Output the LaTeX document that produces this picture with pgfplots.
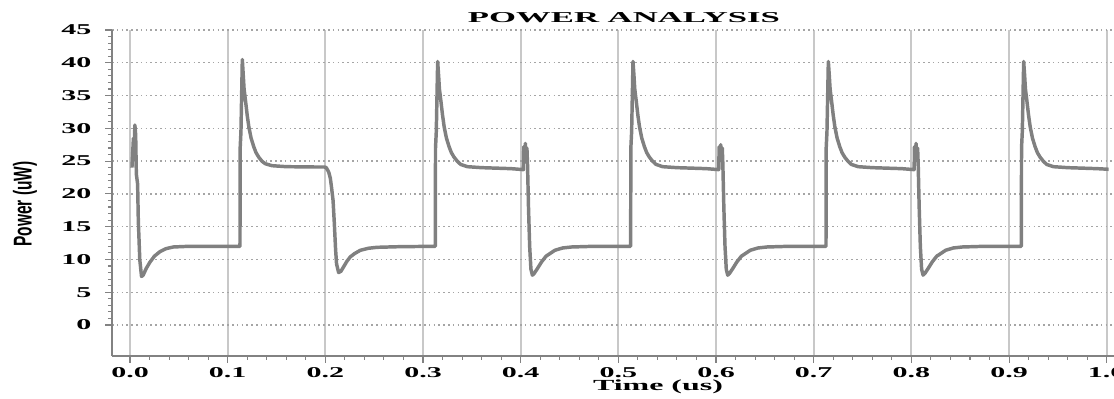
\documentclass[border=0pt]{standalone}
\usepackage{fontspec}
\setmainfont{Liberation Serif}
\newfontfamily\tickfont{Liberation Serif}[FakeStretch=2.0]
\newfontfamily\labelsans{Liberation Sans}
\usepackage{pgfplots}
\pgfplotsset{compat=1.18}
\definecolor{trace}{RGB}{128,128,128}
\definecolor{vgrid}{RGB}{200,200,200}
\definecolor{hgrid}{RGB}{165,165,165}
\definecolor{axln}{RGB}{130,130,130}
\begin{document}
\begin{tikzpicture}
\begin{axis}[
  scale only axis, width=751.5pt, height=244.5pt,
  xmin=-0.01843, xmax=1.00748, ymin=-4.73, ymax=45,
  axis x line=bottom, axis y line=left,
  axis line style={axln, line width=1.3pt, -},
  xtick={0,0.1,...,1.0}, ytick={0,5,...,45},
  minor x tick num=4, minor y tick num=4,
  tick align=outside, major tick length=5pt, minor tick length=3pt,
  tick style={axln, line width=0.8pt},
  xmajorgrids, ymajorgrids,
  x grid style={vgrid, line width=1.3pt},
  y grid style={hgrid, line width=1pt, dash pattern=on 1.2pt off 2.4pt},
  /pgf/number format/assume math mode=true,
  xticklabel style={font=\tickfont\bfseries\fontsize{11.25pt}{12pt}\selectfont, /pgf/number format/fixed, /pgf/number format/fixed zerofill, /pgf/number format/precision=1},
  yticklabel style={font=\tickfont\bfseries\fontsize{11.25pt}{12pt}\selectfont, xshift=-7pt},
  clip=false,
]
\addplot[trace, line width=2.6pt, line join=round] coordinates {
(0.002,24.0)(0.0035,28.5)(0.004,25.5)(0.005,30.5)(0.0058,29)(0.0065,23)(0.0078,21.5)(0.0085,16)(0.0100,10)(0.0118,7.4)(0.0135,7.6)(0.0165,8.6)(0.0205,9.6)(0.025,10.5)(0.0308,11.2)(0.037,11.65)(0.0444,11.9)(0.06,12.0)
(0.1126,12.0)(0.1128,27)(0.1136,29.5)(0.1150,40.5)(0.1160,38)(0.1168,36)(0.1182,34.3)(0.1200,32.0)(0.1217,30.2)(0.1240,28.5)(0.1267,27.2)(0.1290,26.3)(0.1318,25.6)(0.1350,25.0)(0.1385,24.6)(0.1454,24.3)(0.1600,24.15)(0.1900,24.1)(0.1990,24.1)
(0.2010,24.0)(0.2035,23.3)(0.2051,22.4)(0.2065,20.8)(0.2079,19.0)(0.2092,15.5)(0.2105,11.5)(0.2115,9.3)(0.2136,8.0)(0.2160,8.2)(0.2188,8.9)(0.2220,9.7)(0.2256,10.4)(0.2300,10.9)(0.2359,11.4)(0.2440,11.7)(0.2530,11.85)(0.2770,11.95)
(0.3126,12.0)(0.3128,27)(0.3136,29.5)(0.3150,40.2)(0.3160,38)(0.3168,36)(0.3182,34.3)(0.3200,32.0)(0.3217,30.2)(0.3240,28.5)(0.3267,27.2)(0.3290,26.3)(0.3318,25.6)(0.3350,25.0)(0.3385,24.5)(0.3454,24.15)(0.3600,24.0)(0.3900,23.85)(0.4028,23.7)
(0.4032,27.2)(0.4040,25.0)(0.4048,27.7)(0.4056,25.5)(0.4064,27.0)(0.4070,24.5)(0.4080,18.0)(0.4092,12.0)(0.4105,8.5)(0.4120,7.6)(0.4140,7.9)(0.4175,8.7)(0.4215,9.65)(0.4260,10.5)(0.4351,11.4)(0.4430,11.75)(0.4522,11.9)(0.4700,11.98)
(0.5126,12.0)(0.5128,27)(0.5136,29.5)(0.5150,40.2)(0.5160,38)(0.5168,36)(0.5182,34.3)(0.5200,32.0)(0.5217,30.2)(0.5240,28.5)(0.5267,27.2)(0.5290,26.3)(0.5318,25.6)(0.5350,25.0)(0.5385,24.5)(0.5454,24.15)(0.5600,24.0)(0.5900,23.85)(0.6028,23.7)
(0.6032,27.2)(0.6040,25.0)(0.6048,27.5)(0.6056,25.5)(0.6064,27.0)(0.6070,24.5)(0.6080,18.0)(0.6092,12.0)(0.6105,8.5)(0.6120,7.6)(0.6140,7.9)(0.6175,8.7)(0.6215,9.65)(0.6260,10.5)(0.6351,11.4)(0.6430,11.75)(0.6522,11.9)(0.6700,11.98)
(0.7126,12.0)(0.7128,27)(0.7136,29.5)(0.7150,40.2)(0.7160,38)(0.7168,36)(0.7182,34.3)(0.7200,32.0)(0.7217,30.2)(0.7240,28.5)(0.7267,27.2)(0.7290,26.3)(0.7318,25.6)(0.7350,25.0)(0.7385,24.5)(0.7454,24.15)(0.7600,24.0)(0.7900,23.85)(0.8028,23.7)
(0.8032,27.2)(0.8040,25.0)(0.8048,27.7)(0.8056,25.5)(0.8064,27.0)(0.8070,24.5)(0.8080,18.0)(0.8092,12.0)(0.8105,8.5)(0.8120,7.6)(0.8140,7.9)(0.8175,8.7)(0.8215,9.65)(0.8260,10.5)(0.8351,11.4)(0.8430,11.75)(0.8522,11.9)(0.8700,11.98)
(0.9126,12.0)(0.9128,27)(0.9136,29.5)(0.9150,40.2)(0.9160,38)(0.9168,36)(0.9182,34.3)(0.9200,32.0)(0.9217,30.2)(0.9240,28.5)(0.9267,27.2)(0.9290,26.3)(0.9318,25.6)(0.9350,25.0)(0.9385,24.5)(0.9454,24.15)(0.9600,24.0)(0.9900,23.85)(1.0020,23.75)
};
\end{axis}
\node at (384pt,253.5pt) {\resizebox{234pt}{7.5pt}{\bfseries POWER ANALYSIS}};
\node at (409.5pt,-23.25pt) {\resizebox{97.5pt}{8pt}{\bfseries Time (us)}};
\node[rotate=90] at (-65.25pt,114pt) {\resizebox{63.75pt}{14pt}{\labelsans\bfseries Power (uW)}};
\pgfresetboundingbox
\useasboundingbox (-84pt,-32.25pt) rectangle (751.5pt,267pt);
\end{tikzpicture}
\end{document}
